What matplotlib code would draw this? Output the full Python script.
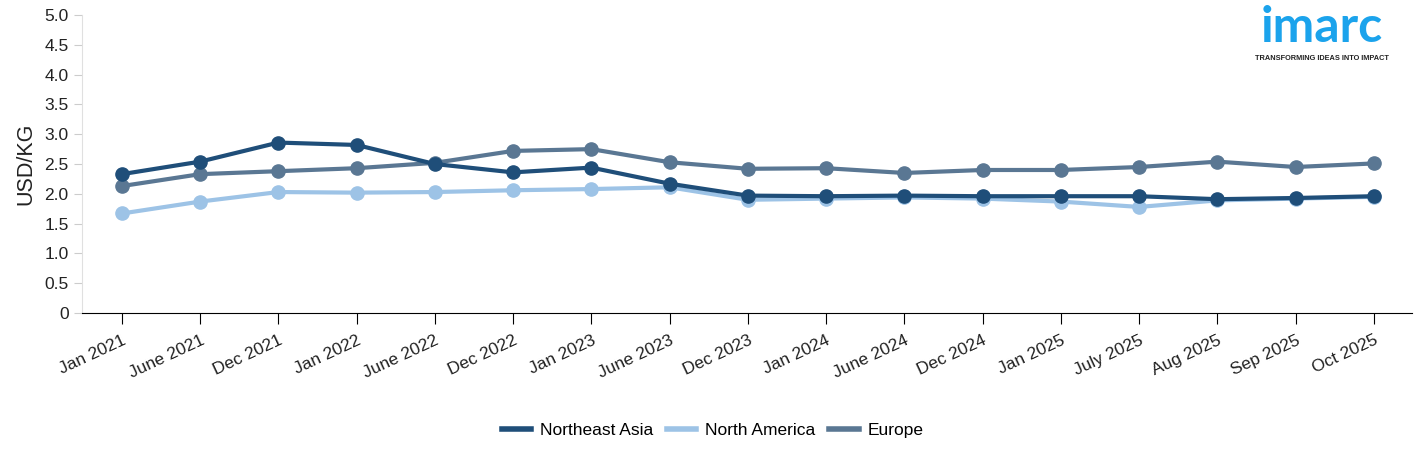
import matplotlib.pyplot as plt

plt.rcParams['font.family'] = ['Liberation Sans', 'DejaVu Sans']

# Data
months = ["Jan 2021", "June 2021", "Dec 2021", "Jan 2022", "June 2022", "Dec 2022",
          "Jan 2023", "June 2023", "Dec 2023", "Jan 2024", "June 2024", "Dec 2024",
          "Jan 2025", "July 2025", "Aug 2025", "Sep 2025", "Oct 2025"]
northeast_asia = [2.33, 2.54, 2.86, 2.82, 2.50, 2.36, 2.44, 2.17, 1.97, 1.96, 1.97, 1.96,
                  1.96, 1.96, 1.91, 1.93, 1.96]
north_america = [1.67, 1.87, 2.03, 2.02, 2.03, 2.06, 2.08, 2.11, 1.90, 1.92, 1.94, 1.92,
                 1.87, 1.78, 1.89, 1.92, 1.95]
europe = [2.13, 2.33, 2.38, 2.43, 2.52, 2.72, 2.75, 2.53, 2.42, 2.43, 2.35, 2.40,
          2.40, 2.45, 2.54, 2.45, 2.51]

fig = plt.figure(figsize=(14.25, 4.55), dpi=100)
ax = fig.add_axes([0.0575, 0.312, 0.9335, 0.655])

x = list(range(len(months)))
series = [("Europe", europe, "#5a7793"),
          ("North America", north_america, "#9dc3e6"),
          ("Northeast Asia", northeast_asia, "#1f4e79")]
for name, vals, col in series:
    ax.plot(x, vals, color=col, linewidth=3, marker='o', markersize=9.5,
            solid_capstyle='round')

ax.set_xlim(-0.51, len(months) - 0.51)
ax.set_ylim(0, 5)
ax.set_yticks([0, 0.5, 1, 1.5, 2, 2.5, 3, 3.5, 4, 4.5, 5])
ax.set_yticklabels(["0", "0.5", "1.0", "1.5", "2.0", "2.5", "3.0", "3.5", "4.0", "4.5", "5.0"])
ax.set_xticks(x)
ax.set_xticklabels(months, rotation=25, ha='right', rotation_mode='anchor')

for s in ['top', 'right']:
    ax.spines[s].set_visible(False)
ax.spines['left'].set_color('#e0e0e0')
ax.spines['bottom'].set_color('#000000')
ax.tick_params(axis='y', colors='#cccccc', labelcolor='#222222', labelsize=12.5, length=6)
ax.tick_params(axis='x', colors='#000000', labelcolor='#222222', labelsize=12.5, length=8, pad=6)
ax.set_ylabel("USD/KG", fontsize=15.5, color='#222222', labelpad=6)

legend_handles = [plt.Line2D([], [], color=c, linewidth=4) for c in ["#1f4e79", "#9dc3e6", "#5a7793"]]
fig.legend(legend_handles, ["Northeast Asia", "North America", "Europe"], loc='center',
           bbox_to_anchor=(0.5, 0.053), ncol=3, frameon=False, fontsize=12.5,
           handlelength=1.7, handletextpad=0.5, columnspacing=0.8)

# Logo
fig.text(0.9275, 0.94, "imarc", color='#1ba3ec', fontsize=36, fontweight='bold',
         ha='center', va='center', family=['Lato', 'DejaVu Sans'])
fig.text(0.9275, 0.872, "TRANSFORMING IDEAS INTO IMPACT", color='#222222', fontsize=5.3,
         fontweight='bold', ha='center', va='center')

fig.savefig("out.png", dpi=100)
